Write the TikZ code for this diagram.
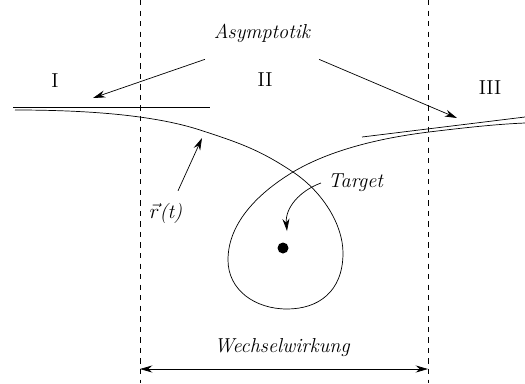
\documentclass[tikz,border=0pt]{standalone}
\usetikzlibrary{arrows.meta}
\begin{document}
\fontsize{11.5}{14}\selectfont
\begin{tikzpicture}[x=0.02cm, y=-0.02cm,
    lbl/.style={font=\itshape},
    zeiger/.style={-{Stealth[length=7pt,width=4pt]}, thin}]
    \useasboundingbox (0,0) rectangle (525,383);

    % Bereichsgrenzen
    \draw[dashed, thin] (140,0) -- (140,383);
    \draw[dashed, thin] (428,0) -- (428,383);

    % Bereiche
    \node (bI) at (55,81) {I};
    \node (bII) at (265,80) {II};
    \node (bIII) at (490,88) {III};

    % Asymptoten
    \draw (13,107) coordinate (aL1) -- (210,107) coordinate (aL2);
    \draw (362,137) coordinate (aR1) -- (525,117) coordinate (aR2);

    % Bahnkurve
    \draw (15,110) .. controls (100,110) and (160,117) .. (200,130)
        .. controls (240,143) and (260,150) .. (293,172)
        .. controls (323,192) and (343,225) .. (343,253)
        .. controls (343,292) and (318,309) .. (287,309)
        .. controls (255,309) and (228,290) .. (228,260)
        .. controls (228,225) and (255,195) .. (293,172)
        .. controls (330,150) and (380,138) .. (429,132)
        .. controls (470,127) and (500,124) .. (525,123);

    % Target
    \fill (283,248) circle (5.5);
    \node[lbl, anchor=west] (target) at (321,183) {Target};
    \coordinate (tZiel) at (287,231);
    \draw[zeiger] (target.west) to[out=200, in=95] (tZiel);

    % Asymptotik
    \node[lbl] (asym) at (262,33) {Asymptotik};
    \coordinate (asL) at (93,98);
    \coordinate (asR) at (457,118);
    \draw[zeiger] (asym.south west) ++(-2,10) -- (asL);
    \draw[zeiger] (asym.south east) ++(2,10) -- (asR);

    % Ortsvektor
    \node[lbl] (rt) at (166,213) {$\vec{r}$\textit{(t)}};
    \coordinate (rZiel) at (202,138);
    \draw[zeiger] (rt.north) ++(12,-5) -- (rZiel);

    % Wechselwirkung
    \node[lbl] (ww) at (282,348) {Wechselwirkung};
    \coordinate (wwL) at (140,369);
    \coordinate (wwR) at (428,369);
    \draw[{Stealth[length=7pt,width=4pt]}-{Stealth[length=7pt,width=4pt]}, thin] (wwL) -- (wwR);
\end{tikzpicture}
\end{document}
